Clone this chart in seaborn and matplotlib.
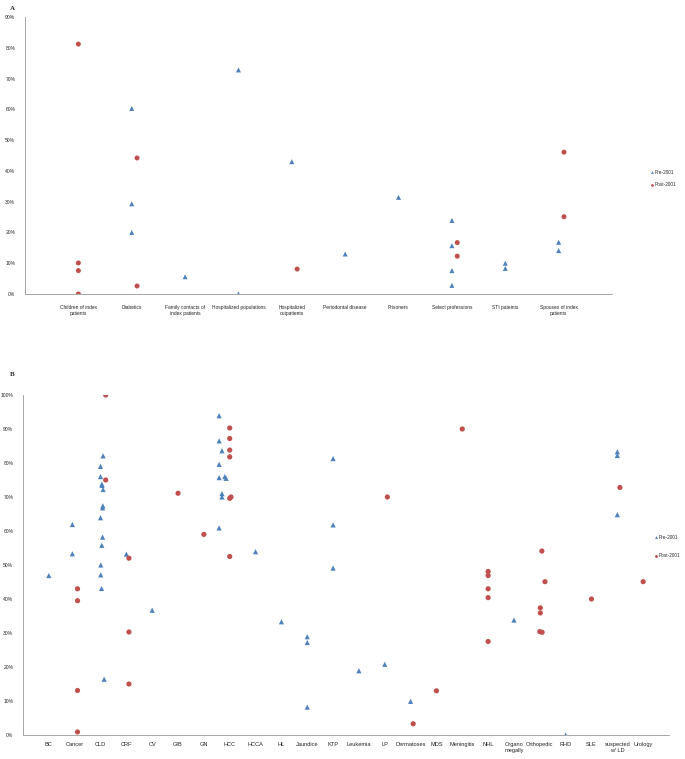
import matplotlib
matplotlib.use("Agg")
import matplotlib.pyplot as plt
import matplotlib.ticker as mticker
import seaborn as sns
import pandas as pd

# ---- panel A data (x = category slot, small offsets as drawn in the original) ----
cats_a = ["Children of index\npatients", "Diabetics", "Family contacts of\nindex patients",
          "Hospitalized populations", "Hospitalized\noutpatients", "Periodontal disease",
          "Prisoners", "Select professions", "STI pateints", "Spouses of index\npatients"]
pre_a_x = [2, 2, 2, 3, 4, 4, 5, 6, 7, 8, 8, 8, 8, 9, 9, 10, 10]
pre_a_y = [60.3, 29.3, 20.0, 5.6, 72.8, 0.0, 43.0, 13.0, 31.4, 23.9, 15.7, 7.6, 2.8,
           10.0, 8.3, 16.8, 14.1]
post_a_x = [1, 1, 1, 1, 2.1, 2.1, 5.1, 8.1, 8.1, 10.1, 10.1]
post_a_y = [81.2, 10.1, 7.6, 0.0, 44.2, 2.6, 8.1, 16.7, 12.3, 46.1, 25.1]

# ---- panel B data ----
cats_b = ["BC", "Cancer", "CLD", "CRF", "CV", "GIB", "GN", "HCC", "HCCA", "HL", "Jaundice",
          "KTP", "Leukemia", "LP", "Dermatoses", "MDS", "Meningitis", "NHL",
          "Organo\nmegally", "Orthopedic", "RHD", "SLE", "suspected\nw/ LD", "Urology"]
pre_b_x = [1.0, 1.91, 1.91,
           3.1, 3.0, 3.0, 3.05, 3.06, 3.1, 3.09, 3.08, 3.0, 3.08, 3.05, 3.01, 3.01, 3.04, 3.14,
           4.0, 5.0,
           7.59, 7.59, 7.59, 7.59, 7.59, 7.7, 7.7, 7.7, 7.81, 7.86,
           9.0, 10.0, 11.0, 11.0, 11.0, 12.0, 12.0, 12.0, 13.0, 14.0, 15.0, 19.0, 21.0,
           23.0, 23.0, 23.0]
pre_b_y = [46.9, 61.9, 53.3,
           82.1, 79.0, 76.0, 73.8, 73.4, 72.2, 67.4, 66.8, 63.9, 58.2, 55.8, 50.0, 47.1, 43.1, 16.4,
           53.2, 36.7,
           93.9, 86.5, 79.6, 75.7, 60.9, 83.6, 71.0, 70.0, 76.0, 75.5,
           53.9, 33.3, 28.9, 27.2, 8.2, 81.3, 61.8, 49.1, 18.9, 20.8, 9.9, 33.8, 0.0,
           83.3, 82.2, 64.8]
post_b_x = [2.11, 2.11, 2.11, 2.11, 3.2, 3.2, 4.1, 4.1, 4.1, 6.0, 7.0,
            8.0, 8.0, 8.0, 8.0, 8.05, 8.0, 8.0,
            14.1, 15.1, 16.0, 17.0, 18.0, 18.0, 18.0, 18.0, 18.0,
            20.08, 20.2, 20.02, 20.02, 20.0, 20.09, 22.0, 23.1, 24.0]
post_b_y = [43.0, 39.5, 13.1, 0.9, 100.0, 75.0, 52.0, 30.3, 15.0, 71.1, 59.0,
            90.3, 87.2, 83.8, 81.8, 70.0, 69.6, 52.5,
            70.0, 3.3, 13.0, 90.0, 48.1, 46.9, 43.0, 40.4, 27.5,
            54.1, 45.1, 37.4, 35.9, 30.4, 30.2, 40.0, 72.8, 45.1]

periods = ["Pre-2001", "Post-2001"]
palette = {"Pre-2001": "#4F81BD", "Post-2001": "#C0504D"}
markers = {"Pre-2001": "^", "Post-2001": "o"}


def make_frame(pre_x, pre_y, post_x, post_y):
    df_pre = pd.DataFrame({"x": pre_x, "value": pre_y, "period": "Pre-2001"})
    df_post = pd.DataFrame({"x": post_x, "value": post_y, "period": "Post-2001"})
    return pd.concat([df_pre, df_post], ignore_index=True)


def style_axis(ax, cats, ymax, ystep, label_size, pad):
    ax.set_xlim(0, len(cats) + 1)
    ax.set_ylim(0, ymax)
    ax.set_xticks(range(1, len(cats) + 1))
    ax.set_xticklabels(cats, fontsize=label_size, color="#222222", linespacing=1.15)
    ax.yaxis.set_major_locator(mticker.MultipleLocator(ystep))
    ax.yaxis.set_major_formatter(mticker.FuncFormatter(lambda v, p: f"{v:.0f}%"))
    ax.tick_params(axis="y", labelsize=3.6, length=2, width=0.5, color="#888888", pad=5)
    ax.tick_params(axis="x", length=2, width=0.5, color="#888888", pad=pad)
    for side in ["top", "right"]:
        ax.spines[side].set_visible(False)
    for side in ["left", "bottom"]:
        ax.spines[side].set_color("#999999")
        ax.spines[side].set_linewidth(0.6)
    ax.set_xlabel("")
    ax.set_ylabel("")
    ax.grid(False)


def place_legend(ax, x, y, spacing):
    sns.move_legend(ax, "center left", bbox_to_anchor=(x, y), title=None,
                    frameon=False, fontsize=3.4, markerscale=0.55, handletextpad=0.2,
                    handlelength=0.7, borderpad=0, borderaxespad=0, labelspacing=spacing)


sns.set_theme(style="white")
plt.rcParams["font.family"] = ["Liberation Sans", "DejaVu Sans"]

fig = plt.figure(figsize=(6.85, 7.59), dpi=100)

# panel A
ax_a = fig.add_axes([25 / 685, 1 - 294 / 759, 587 / 685, 277 / 759])
df_a = make_frame(pre_a_x, pre_a_y, post_a_x, post_a_y)
sns.scatterplot(data=df_a, x="x", y="value", hue="period", style="period",
                hue_order=periods, style_order=periods, palette=palette, markers=markers,
                s=13, linewidth=0, ax=ax_a)
style_axis(ax_a, cats_a, 90, 10, 3.5, 6)
place_legend(ax_a, 1.065, 0.417, 1.6)

# panel B
ax_b = fig.add_axes([23 / 685, 1 - 735 / 759, 646 / 685, 340 / 759])
df_b = make_frame(pre_b_x, pre_b_y, post_b_x, post_b_y)
sns.scatterplot(data=df_b, x="x", y="value", hue="period", style="period",
                hue_order=periods, style_order=periods, palette=palette, markers=markers,
                s=14, linewidth=0, ax=ax_b)
style_axis(ax_b, cats_b, 100, 10, 4.1, 3)
place_legend(ax_b, 0.978, 0.554, 2.8)

fig.text(10 / 685, 1 - 8 / 759, "A", fontsize=5, fontweight="bold",
         family="Liberation Serif", ha="left", va="center")
fig.text(10 / 685, 1 - 374 / 759, "B", fontsize=5, fontweight="bold",
         family="Liberation Serif", ha="left", va="center")

fig.savefig("out.png", dpi=100)
